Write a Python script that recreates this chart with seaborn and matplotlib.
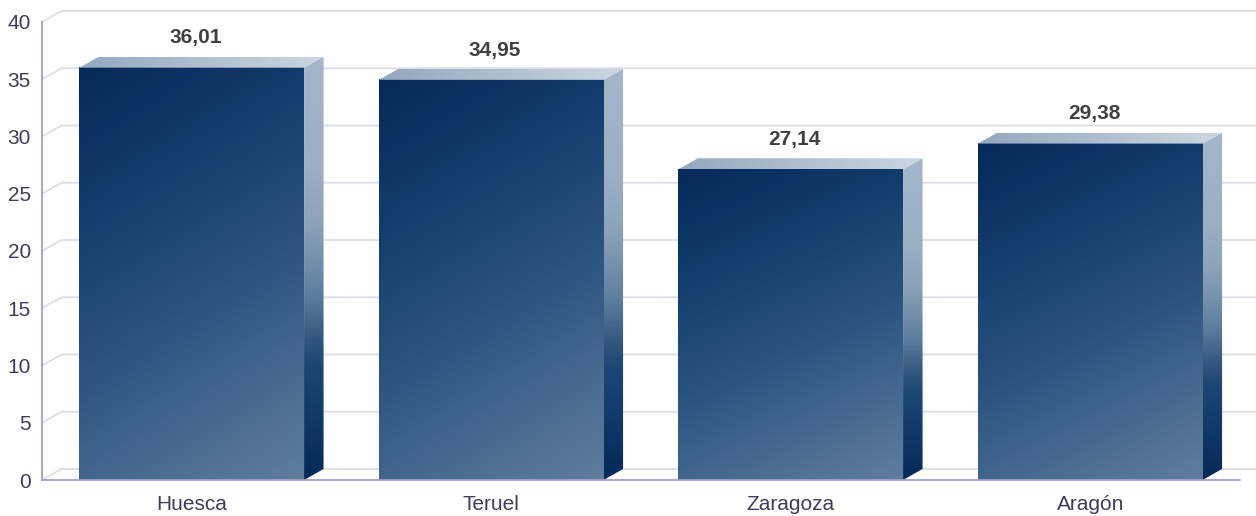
import numpy as np
import matplotlib
matplotlib.use('Agg')
import matplotlib.pyplot as plt
import seaborn as sns
from matplotlib.colors import LinearSegmentedColormap
from matplotlib.patches import Polygon

categories = ['Huesca', 'Teruel', 'Zaragoza', 'Aragón']
values = [36.01, 34.95, 27.14, 29.38]
y_ticks = [0, 5, 10, 15, 20, 25, 30, 35, 40]

sns.set_style('white')
plt.rcParams['font.family'] = ['Liberation Sans', 'DejaVu Sans']

W, H = 1256, 516
fig = plt.figure(figsize=(W / 100, H / 100), dpi=100)
ax = fig.add_axes([42 / W, 36 / H, 1198 / W, 458 / H])

sns.barplot(x=categories, y=values, width=0.75, ax=ax, color='#0b2f5f', zorder=3)
ax.set_xlim(-0.5, 3.5)
ax.set_ylim(0, 40)

# depth offsets (3D look)
DX = 19.5 / 299.5
DY = 11 / 11.45

grid_color = '#dcdce8'
for t in y_ticks:
    ax.plot([-0.5, -0.5 + DX, 3.5 + DX + 0.2], [t, t + DY, t + DY],
            color=grid_color, lw=1.3, clip_on=False, zorder=1)

front_cmap = LinearSegmentedColormap.from_list(
    'front', [(0, '#05295a'), (0.3, '#143f6e'), (0.55, '#2a5280'),
              (0.8, '#476a90'), (1, '#5f7e9e')])
side_cmap = LinearSegmentedColormap.from_list(
    'side', [(0, '#a3b6ca'), (0.27, '#9aaec4'), (0.4, '#8aa2b8'),
             (0.56, '#5f7fa0'), (0.66, '#35597f'), (0.73, '#1c4674'),
             (0.85, '#113a69'), (1, '#052957')])
top_cmap = LinearSegmentedColormap.from_list('top', ['#93a8bf', '#cbd6e1'])

n = 200
u = np.linspace(0, 1, n)[None, :]
v = np.linspace(0, 1, n)[:, None]
front_grad = 0.25 * u + 0.75 * v
vert_grad = np.repeat(v, 2, axis=1)
horiz_grad = np.repeat(u, 2, axis=0)

for patch, val in zip(ax.patches, values):
    x0 = patch.get_x()
    w = patch.get_width()
    h = patch.get_height()
    x1 = x0 + w
    patch.set_facecolor('none')
    patch.set_edgecolor('none')
    # front face
    ax.imshow(front_grad, extent=(x0, x1, 0, h), origin='upper', cmap=front_cmap,
              vmin=0, vmax=1, aspect='auto', zorder=3, interpolation='bilinear')
    # side face
    side = Polygon([(x1, 0), (x1 + DX, DY), (x1 + DX, h + DY), (x1, h)],
                   closed=True, facecolor='none', edgecolor='none', zorder=3)
    ax.add_patch(side)
    im = ax.imshow(vert_grad, extent=(x1, x1 + DX, 0, h + DY), origin='upper',
                   cmap=side_cmap, vmin=0, vmax=1, aspect='auto', zorder=3,
                   interpolation='bilinear')
    im.set_clip_path(side)
    # top face
    top = Polygon([(x0, h), (x1, h), (x1 + DX, h + DY), (x0 + DX, h + DY)],
                  closed=True, facecolor='none', edgecolor='none', zorder=3)
    ax.add_patch(top)
    im = ax.imshow(horiz_grad, extent=(x0, x1 + DX, h, h + DY), origin='upper',
                   cmap=top_cmap, vmin=0, vmax=1, aspect='auto', zorder=3,
                   interpolation='bilinear')
    im.set_clip_path(top)
    # value label
    ax.annotate(f'{val:.2f}'.replace('.', ','), xy=(x0 + w / 2 + DX * 0.2, h + DY),
                xytext=(0, 9.5), textcoords='offset points', ha='center',
                va='baseline', fontsize=15, fontweight='bold', color='#404040',
                annotation_clip=False, zorder=5)

ax.set_xlim(-0.5, 3.5)
ax.set_ylim(0, 40)
ax.set_yticks(y_ticks)
ax.set_xlabel('')
ax.set_ylabel('')
ax.grid(False)
for s in ['top', 'right']:
    ax.spines[s].set_visible(False)
for s in ['left', 'bottom']:
    ax.spines[s].set_color('#a0a0c8')
    ax.spines[s].set_linewidth(1.3)
    ax.spines[s].set_zorder(4)
ax.tick_params(axis='y', length=0, labelsize=15, labelcolor='#3d3d5a', pad=8)
ax.tick_params(axis='x', length=0, labelsize=15, labelcolor='#3d3d5a', pad=11)

fig.savefig('out.png', dpi=100)
